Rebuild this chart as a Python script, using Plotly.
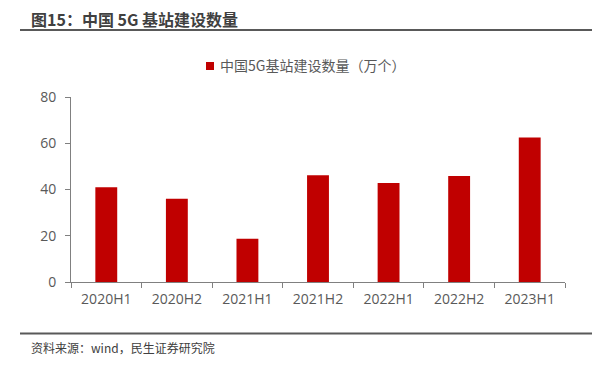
import plotly.graph_objects as go

categories = ["2020H1", "2020H2", "2021H1", "2021H2", "2022H1", "2022H2", "2023H1"]
values = [41.0, 36.0, 18.7, 46.2, 42.8, 45.8, 62.5]
series_name = "中国5G基站建设数量（万个）"
y_ticks = [0, 20, 40, 60, 80]

# page body has an 8px margin; compensate so positions match the reference
OFF = 8
W, H = 601 - OFF, 367 - OFF
L, R, T, B = 71 - OFF, 36, 97 - OFF, 85
pw = W - L - R
ph = H - T - B

def px_x(x):
    return (x - OFF - L) / pw

def px_y(y):
    return (H - B - (y - OFF)) / ph

font_fam = "Open Sans, Noto Sans CJK SC, sans-serif"
cjk = "Noto Sans CJK SC, sans-serif"

fig = go.Figure()
fig.add_trace(go.Bar(
    x=categories, y=values, name=series_name,
    marker=dict(color="#C00000", line=dict(width=0)),
    showlegend=False,
))

fig.update_layout(
    width=W, height=H,
    margin=dict(l=L, r=R, t=T, b=B),
    paper_bgcolor="white", plot_bgcolor="white",
    bargap=0.69,
    font=dict(family=font_fam, color="#595959", size=13),
    showlegend=False,
    xaxis=dict(
        type="category", showline=True, linecolor="#808080", linewidth=1,
        ticks="outside", tickson="boundaries", ticklen=5, tickcolor="#808080",
        showgrid=False, zeroline=False, ticklabelstandoff=4,
        tickfont=dict(family=font_fam, size=14, color="#595959"),
    ),
    yaxis=dict(
        range=[0, 80], tickvals=y_ticks, showline=True, linecolor="#808080", linewidth=1,
        ticks="outside", ticklen=5, tickcolor="#808080",
        showgrid=False, zeroline=False, ticklabelstandoff=6,
        tickfont=dict(family=font_fam, size=14, color="#595959"),
    ),
    shapes=[
        dict(type="line", xref="paper", yref="paper",
             x0=px_x(20), x1=px_x(592), y0=px_y(30), y1=px_y(30),
             line=dict(color="#595959", width=2)),
        dict(type="line", xref="paper", yref="paper",
             x0=px_x(20), x1=px_x(592), y0=px_y(333.5), y1=px_y(333.5),
             line=dict(color="#595959", width=2)),
        dict(type="rect", xref="paper", yref="paper",
             x0=px_x(206), x1=px_x(214), y0=px_y(62), y1=px_y(70),
             fillcolor="#C00000", line=dict(width=0)),
    ],
    annotations=[
        dict(text="<b>图15：中国 5G 基站建设数量</b>", xref="paper", yref="paper",
             x=px_x(29), y=px_y(19), xanchor="left", yanchor="middle", showarrow=False,
             font=dict(family=cjk, size=16, color="#404040")),
        dict(text=series_name, xref="paper", yref="paper",
             x=px_x(218), y=px_y(65.5), xanchor="left", yanchor="middle", showarrow=False,
             font=dict(family=cjk, size=14, color="#595959")),
        dict(text="资料来源：wind，民生证券研究院", xref="paper", yref="paper",
             x=px_x(29), y=px_y(347), xanchor="left", yanchor="middle", showarrow=False,
             font=dict(family=cjk, size=12, color="#404040")),
    ],
)

fig.write_html("out.html")
